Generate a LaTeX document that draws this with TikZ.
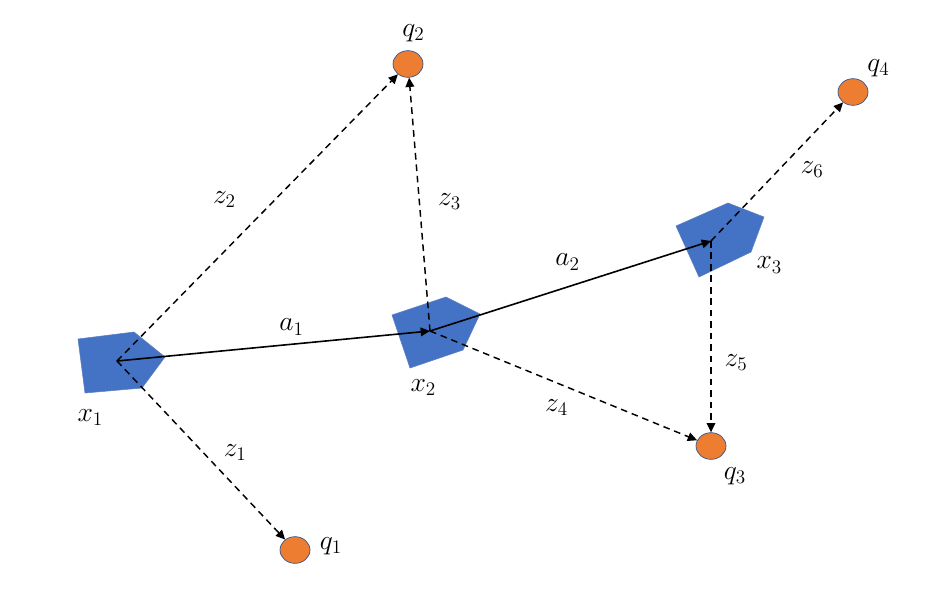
\documentclass[tikz,border=0pt]{standalone}
\usepackage{amsmath,amssymb}
\usepackage{tikz}
\usetikzlibrary{arrows.meta,positioning,shapes.geometric}
\definecolor{agentblue}{HTML}{4472C4}
\definecolor{agentedge}{HTML}{5B7FBF}
\definecolor{markorange}{HTML}{ED7D31}
\definecolor{markedge}{HTML}{2F528F}

\begin{document}
\begin{tikzpicture}[
  x=0.75pt,y=-0.75pt,
  node distance=3pt and 6pt,
  lab/.style={font=\fontsize{20}{24}\selectfont,inner sep=0pt},
  landmark/.style={ellipse,draw=markedge,fill=markorange,line width=0.5pt,inner sep=0pt,minimum width=22.5pt,minimum height=20pt},
  agent/.style={draw=agentedge,fill=agentblue,line width=0.4pt},
  move/.style={-{Triangle[length=7pt,width=6.5pt]},line width=1.2pt},
  obs/.style={-{Triangle[length=7pt,width=6.5pt]},line width=1.1pt,dash pattern=on 5pt off 3.6pt}
]
\useasboundingbox (0,0) rectangle (952,604);
\fill[white] (0,0) rectangle (952,604);
% poses
\draw[agent] (78,339)--(134,332)--(165,357)--(142,388)--(85,393)--cycle;
\draw[agent] (392,315)--(446,297)--(480,314)--(463,350)--(410,368)--cycle;
\draw[agent] (676,226)--(728,203)--(764,217)--(751,252)--(699,277)--cycle;
\coordinate (x1) at (117,361);
\coordinate (x2) at (430,331);
\coordinate (x3) at (711,241);
% landmarks
\node[landmark] (q1) at (295,550) {};
\node[landmark] (q2) at (408,64) {};
\node[landmark] (q3) at (711,446) {};
\node[landmark] (q4) at (853,92) {};
% names
\node[lab,right=7pt of q1,yshift=3pt] (q1lab) {$q_1$};
\node[lab,above=6pt of q2,xshift=4pt] (q2lab) {$q_2$};
\node[lab,below=6pt of q3,xshift=18pt] (q3lab) {$q_3$};
\node[lab,right=-1pt of q4,yshift=18pt] (q4lab) {$q_4$};
\node[lab,below=36pt of x1,xshift=-20pt] (x1lab) {$x_1$};
\node[lab,below=36.5pt of x2,xshift=-5pt] (x2lab) {$x_2$};
\node[lab,right=34pt of x3,yshift=-18pt] (x3lab) {$x_3$};
% observations
\draw[obs] (x1)--(q1) node[lab,midway,shift={(34,2)}] (z1) {$z_1$};
\draw[obs] (x1)--(q2) node[lab,midway,shift={(-33,-18)}] (z2) {$z_2$};
\draw[obs] (x2)--(q2) node[lab,midway,shift={(30,-3)}] (z3) {$z_3$};
\draw[obs] (x2)--(q3) node[lab,midway,shift={(-7,22)}] (z4) {$z_4$};
\draw[obs] (x3)--(q3) node[lab,midway,shift={(25,26)}] (z5) {$z_5$};
\draw[obs] (x3)--(q4) node[lab,midway,shift={(35,-2)}] (z6) {$z_6$};
% odometry
\draw[move] (x1)--(x2) node[lab,midway,shift={(18,-19)}] (a1) {$a_1$};
\draw[move] (x2)--(x3) node[lab,midway,shift={(-3,-24)}] (a2) {$a_2$};
\end{tikzpicture}
\end{document}
